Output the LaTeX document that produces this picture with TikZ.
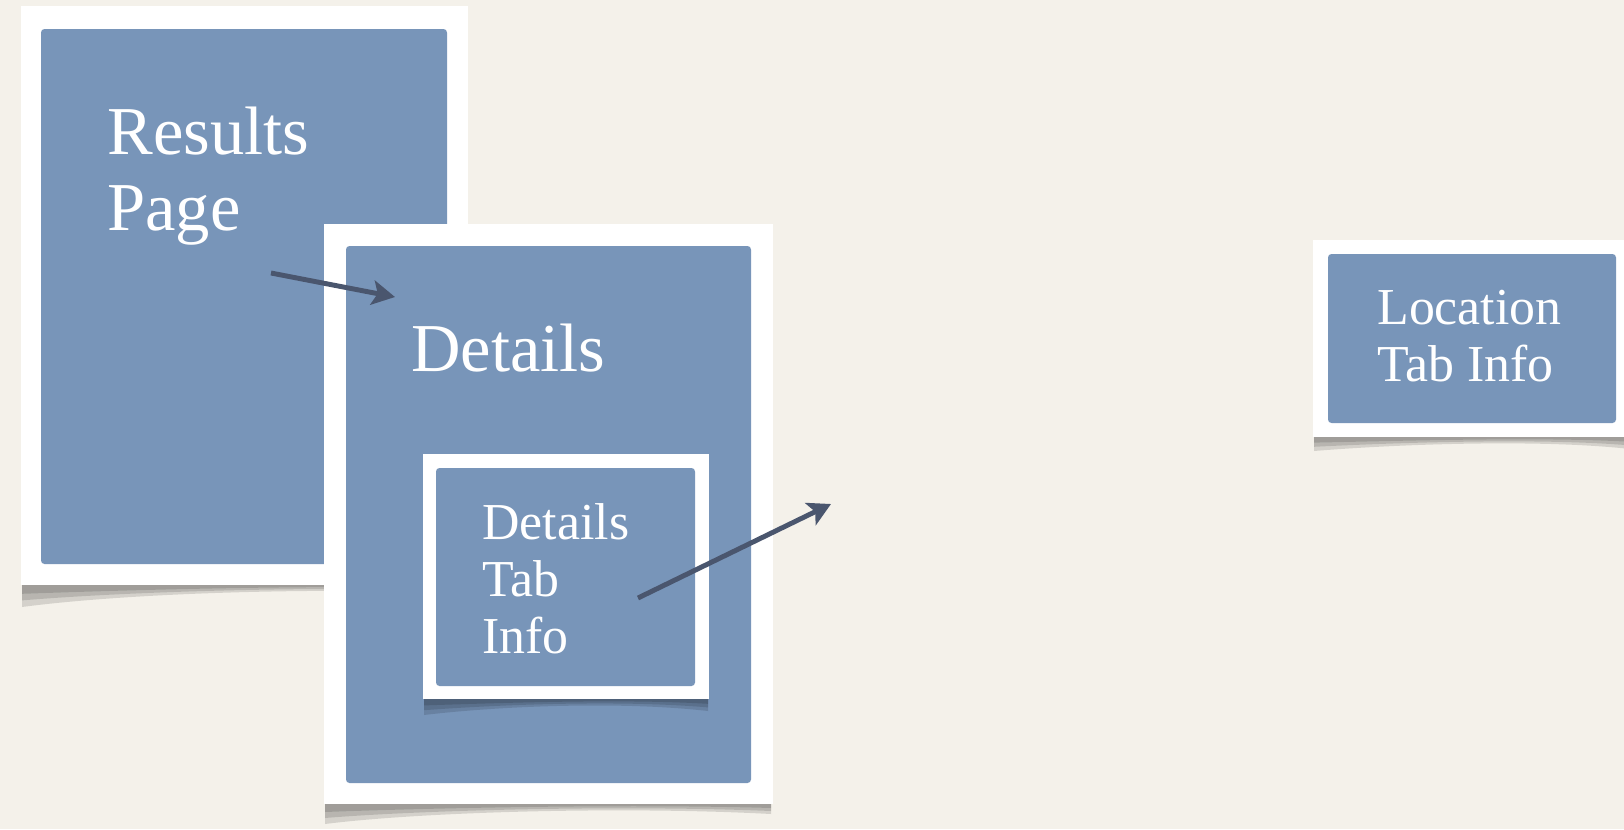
\documentclass[tikz,border=0pt]{standalone}
\usepackage{fontspec}
\setmainfont{Liberation Serif}
\usepackage{tikz}
\usetikzlibrary{arrows.meta,positioning}
\definecolor{paper}{HTML}{F4F1EA}
\definecolor{cardblue}{HTML}{7895B9}
\definecolor{arrowgrey}{HTML}{4A566E}
\tikzset{
  cardtext/.style={text=white, anchor=base west, align=left, inner sep=0pt},
  bigtext/.style={cardtext, font=\fontsize{39}{42.7}\selectfont},
  smalltext/.style={cardtext, font=\fontsize{29.5}{32.4}\selectfont},
  frame/.style={fill=white},
  panel/.style={fill=cardblue, rounded corners=2pt},
  shade/.style={fill=black, opacity=0.13},
  flow/.style={draw=arrowgrey, line width=2.8pt, -{Stealth[length=13pt,width=14pt,inset=3pt]}},
}

\begin{document}
\begin{tikzpicture}[x=0.02cm, y=-0.02cm]
% Paper
\fill[paper] (0,0) rectangle (1624,829);
\useasboundingbox (0,0) rectangle (1624,829);

% Results page
\foreach \s in {0.4,0.7,1} {
  \fill[shade] (22,560) -- (22,585+22*\s) .. controls (120,588+6*\s) and (300,583+4*\s) .. (466,585+8*\s) -- (466,560) -- cycle;
}
\fill[frame] (21,6) rectangle (468,585);
\fill[panel] (41,29) rectangle (447,564);
\node[bigtext] (results) at (107,230) {Results\\Page};

% Details page
\foreach \s in {0.4,0.7,1} {
  \fill[shade] (325,780) -- (325,804+20*\s) .. controls (420,806+6*\s) and (620,802+4*\s) .. (771,804+10*\s) -- (771,780) -- cycle;
}
\fill[frame] (324,224) rectangle (773,804);
\fill[panel] (346,246) rectangle (751,783);
\node[bigtext] (details) at (411,371) {Details};

% Details tab
\foreach \s in {0.4,0.7,1} {
  \fill[shade] (424,680) -- (424,699+16*\s) .. controls (500,701+5*\s) and (620,697+4*\s) .. (708,699+12*\s) -- (708,680) -- cycle;
}
\fill[frame] (423,454) rectangle (709,699);
\fill[panel] (436,468) rectangle (695,686);
\node[smalltext] (detailstab) at (482,653) {Details\\Tab\\Info};

% Location tab
\foreach \s in {0.4,0.7,1} {
  \fill[shade] (1314,420) -- (1314,437+14*\s) .. controls (1400,439+5*\s) and (1540,435+4*\s) .. (1630,437+12*\s) -- (1630,420) -- cycle;
}
\fill[frame] (1313,240) rectangle (1640,437);
\fill[panel] (1328,254) rectangle (1616,423);
\node[smalltext] (locationtab) at (1377,381) {Location\\Tab Info};

% Arrows
\coordinate (resultsout) at (271,273);
\coordinate (detailsin) at (395,297);
\coordinate (tabout) at (638,598);
\coordinate (tabnext) at (831,504);
\draw[flow] (resultsout) -- (detailsin);
\draw[flow] (tabout) -- (tabnext);
\end{tikzpicture}
\end{document}
